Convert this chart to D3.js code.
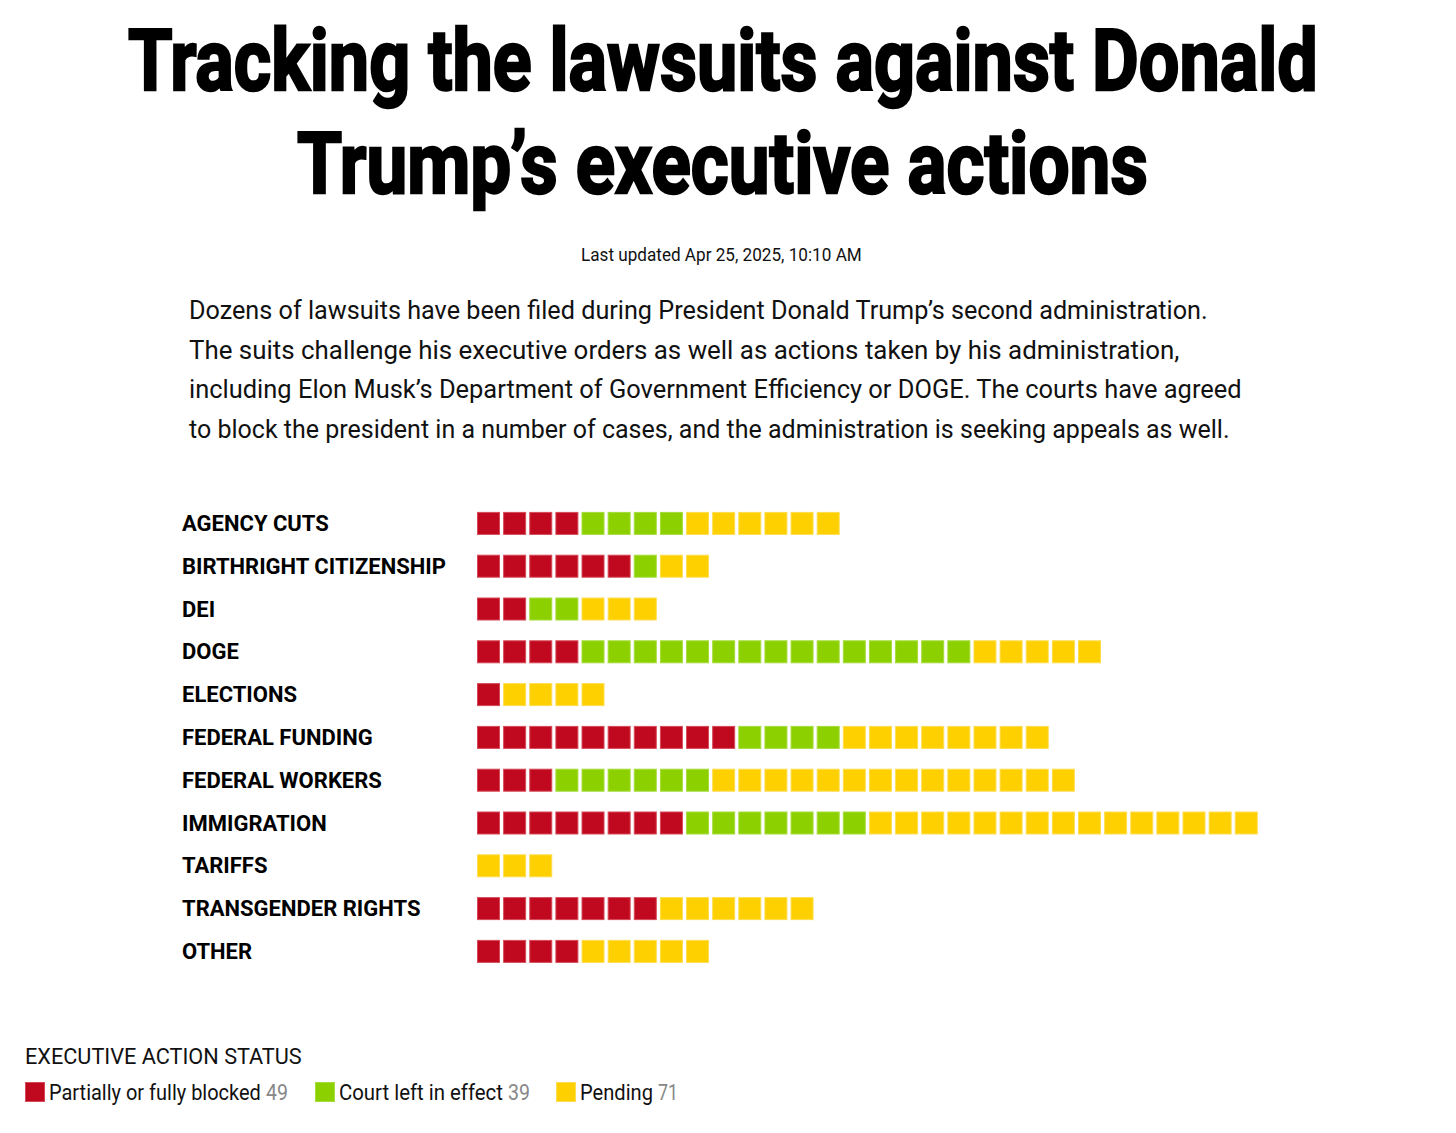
<!DOCTYPE html>
<html>
<head>
<meta charset="utf-8">
<script src="https://cdn.jsdelivr.net/npm/d3@7"></script>
<style>
  body { margin: 0; background: #fff; }
  svg text { font-family: "Roboto", "Liberation Sans", sans-serif; }
</style>
</head>
<body>
<div id="chart"></div>
<script>
const categories = ["AGENCY CUTS", "BIRTHRIGHT CITIZENSHIP", "DEI", "DOGE", "ELECTIONS",
    "FEDERAL FUNDING", "FEDERAL WORKERS", "IMMIGRATION", "TARIFFS", "TRANSGENDER RIGHTS", "OTHER"];
const blocked = [4, 6, 2, 4, 1, 10, 3, 8, 0, 7, 4];
const inEffect = [4, 1, 2, 15, 0, 4, 6, 7, 0, 0, 0];
const pending = [6, 2, 3, 5, 4, 8, 14, 15, 3, 6, 5];

const statusNames = ["Partially or fully blocked", "Court left in effect", "Pending"];
const statusColors = ["#c0081f", "#8cd000", "#fed000"];
const statusStroke = ["#d64a58", "#a6dc3c", "#ffdd50"];

const titleLines = ["Tracking the lawsuits against Donald", "Trump\u2019s executive actions"];
const updated = "Last updated Apr 25, 2025, 10:10 AM";
const intro = [
    "Dozens of lawsuits have been filed during President Donald Trump\u2019s second administration.",
    "The suits challenge his executive orders as well as actions taken by his administration,",
    "including Elon Musk\u2019s Department of Government Efficiency or DOGE. The courts have agreed",
    "to block the president in a number of cases, and the administration is seeking appeals as well."
];

const width = 1456;
const height = 1133;

const svg = d3.select("#chart")
    .append("svg")
    .attr("width", width)
    .attr("height", height);

// squeeze a text horizontally so it runs from x0 to x1
function fitText(sel, x0, x1, y) {
    sel.each(function (d, i) {
        const a = typeof x0 === "function" ? x0(d, i) : x0;
        const b = typeof x1 === "function" ? x1(d, i) : x1;
        const yy = typeof y === "function" ? y(d, i) : y;
        const w = this.getComputedTextLength();
        const k = (b - a) / w;
        d3.select(this).attr("transform", `translate(${a},${yy}) scale(${k},1)`);
    });
}

// title
const titleX = [[128, 1318], [297, 1148]];
svg.selectAll(".title")
    .data(titleLines)
    .enter()
    .append("text")
    .attr("class", "title")
    .style("font-size", "86px")
    .style("font-weight", "bold")
    .style("fill", "#000")
    .style("stroke", "#000")
    .style("stroke-width", "2.5px")
    .text(d => d)
    .call(fitText, (d, i) => titleX[i][0], (d, i) => titleX[i][1], (d, i) => 90 + i * 103);

svg.append("text")
    .style("font-size", "18px")
    .style("fill", "#111")
    .text(updated)
    .call(fitText, 581, 862, 261);

const introEnds = [1208, 1180, 1242, 1230];
svg.selectAll(".intro")
    .data(intro)
    .enter()
    .append("text")
    .attr("class", "intro")
    .style("font-size", "25px")
    .style("fill", "#111")
    .text(d => d)
    .call(fitText, 189, (d, i) => introEnds[i], (d, i) => 319 + i * 39.5);

// waffle rows
const cell = 23;
const x = d3.scaleLinear().domain([0, 30]).range([477, 477 + 30 * 26.13]);
const y = d3.scaleBand().domain(categories).range([502, 502 + 11 * 42.8]);

const rows = categories.map((c, i) => {
    const counts = [blocked[i], inEffect[i], pending[i]];
    const cells = [];
    counts.forEach((n, s) => {
        for (let k = 0; k < n; k++) cells.push({ status: s });
    });
    return { category: c, cells: cells };
});

const row = svg.selectAll(".row")
    .data(rows)
    .enter()
    .append("g")
    .attr("class", "row")
    .attr("transform", d => `translate(0,${y(d.category) + (y.bandwidth() - cell) / 2})`);

row.append("text")
    .attr("x", 182)
    .attr("y", 19)
    .style("font-size", "22px")
    .style("font-weight", "bold")
    .style("fill", "#000")
    .text(d => d.category);

row.selectAll("rect")
    .data(d => d.cells)
    .enter()
    .append("rect")
    .attr("x", (d, i) => x(i) + 0.5)
    .attr("y", 0.5)
    .attr("width", cell - 1)
    .attr("height", cell - 1)
    .attr("fill", d => statusColors[d.status])
    .attr("stroke", d => statusStroke[d.status])
    .style("stroke-width", "1px");

// legend
const totals = [d3.sum(blocked), d3.sum(inEffect), d3.sum(pending)];
svg.append("text")
    .style("font-size", "22px")
    .style("fill", "#111")
    .text("EXECUTIVE ACTION STATUS")
    .call(fitText, 25, 302, 1064);

const legendX = [25, 315, 556];
const legendTextEnd = [261, 503, 653];
const legendNumEnd = [288, 530, 678];
const legend = svg.selectAll(".legend")
    .data(statusNames)
    .enter()
    .append("g")
    .attr("class", "legend");

legend.append("rect")
    .attr("x", (d, i) => legendX[i] + 0.5)
    .attr("y", 1082.5)
    .attr("width", 19)
    .attr("height", 19)
    .attr("fill", (d, i) => statusColors[i])
    .attr("stroke", (d, i) => statusStroke[i]);

legend.append("text")
    .style("font-size", "22px")
    .style("fill", "#111")
    .text(d => d)
    .call(fitText, (d, i) => legendX[i] + 24, (d, i) => legendTextEnd[i], 1100);

legend.append("text")
    .style("font-size", "22px")
    .style("fill", "#888")
    .text((d, i) => totals[i])
    .call(fitText, (d, i) => legendTextEnd[i] + 5, (d, i) => legendNumEnd[i], 1100);
</script>
</body>
</html>
